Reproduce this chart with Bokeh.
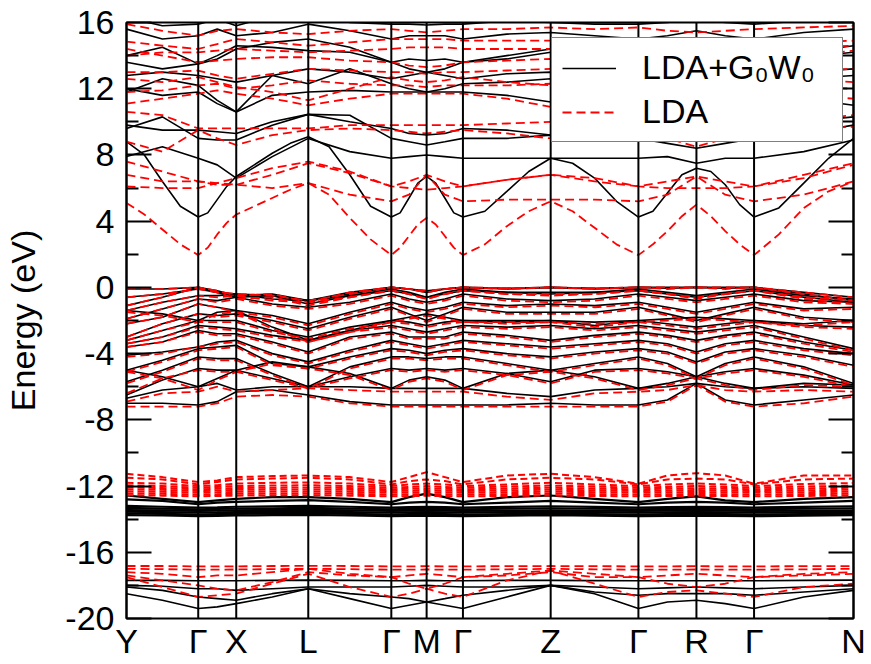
from bokeh.plotting import figure
from bokeh.models import Range1d, FixedTicker, LinearAxis, Span, Legend, LegendItem
from bokeh.embed import file_html
from bokeh.resources import INLINE

# ---------------- data ----------------
K_POINTS = [0.0, 71.7, 109.7, 181.7, 264.7, 300.0, 336.3, 424.0, 511.7, 569.7, 627.3, 726.7]
K_LABELS = ["Y", "Γ", "X", "L", "Γ", "M", "Γ", "Z", "Γ", "R", "Γ", "N"]
K_SAMPLES = [0.0, 35.9, 71.7, 90.7, 109.7, 145.7, 181.7, 223.2, 264.7, 282.4, 300.0, 318.2,
             336.3, 380.2, 424.0, 467.9, 511.7, 540.7, 569.7, 598.5, 627.3, 677.0, 726.7]
K_FINE = [0.0, 17.9, 35.9, 53.8, 71.7, 81.2, 90.7, 100.2, 109.7, 127.7, 145.7, 163.7, 181.7,
          202.5, 223.2, 244.0, 264.7, 273.5, 282.4, 291.2, 300.0, 309.1, 318.2, 327.2, 336.3,
          358.2, 380.2, 402.1, 424.0, 445.9, 467.9, 489.8, 511.7, 526.2, 540.7, 555.2, 569.7,
          584.1, 598.5, 612.9, 627.3, 652.1, 677.0, 701.8, 726.7]
Y_TICKS = [-20, -16, -12, -8, -4, 0, 4, 8, 12, 16]
Y_MINOR = [-18, -14, -10, -6, -2, 2, 6, 10, 14]
Y_TICK_LABELS = ["-20", "-16", "-12", "-8", "-4", "0", "4", "8", "12", "16"]

# lowest conduction bands, read on the finer k grid
G0W0_CB_LOWEST = [8.8, 8.0, 6.4, 4.9, 4.25, 4.5, 5.3, 6.1, 6.7, 7.4, 8.1, 8.7, 9.1,
                  8.5, 6.8, 4.9, 4.25, 4.5, 5.4, 6.3, 6.7, 6.3, 5.4, 4.5, 4.25,
                  4.6, 5.8, 7.0, 7.8, 7.5, 6.6, 5.2, 4.25, 4.6, 5.7, 6.8, 7.2,
                  7.0, 6.2, 5.0, 4.25, 4.8, 6.3, 7.8, 9.0]
LDA_CB_LOWEST = [5.1, 4.4, 3.5, 2.6, 1.95, 2.4, 3.2, 3.9, 4.4, 4.9, 5.4, 5.9, 6.3,
                 5.6, 4.2, 2.9, 1.95, 2.4, 3.1, 3.8, 4.2, 3.8, 3.1, 2.4, 1.95,
                 2.6, 3.7, 4.6, 5.2, 4.6, 3.6, 2.6, 1.95, 2.6, 3.4, 4.3, 5.0,
                 4.3, 3.4, 2.6, 1.95, 3.2, 4.8, 5.8, 6.4]

G0W0_CONDUCTION = [
    [7.9, 8.5, 7.8, 7.4, 6.6, 7.9, 9.0, 8.2, 7.8, 7.9, 8.0, 7.9, 7.8, 7.8, 7.8, 7.8, 7.8, 7.9, 7.5, 7.8, 7.8, 8.2, 8.9],
    [9.6, 10.3, 9.0, 8.9, 8.9, 9.8, 10.45, 10.4, 9.0, 8.8, 8.6, 8.8, 9.0, 9.0, 9.2, 9.1, 9.0, 8.7, 8.4, 8.7, 9.0, 9.3, 9.8],
    [9.8, 9.5, 9.5, 9.4, 9.3, 10.0, 10.45, 10.0, 9.6, 9.3, 9.2, 9.3, 9.6, 9.5, 9.2, 9.5, 9.8, 9.5, 9.3, 9.5, 9.8, 10.0, 10.3],
    [11.8, 12.6, 12.2, 11.3, 10.6, 12.8, 12.3, 13.2, 12.3, 12.0, 11.8, 12.0, 12.3, 12.4, 12.6, 12.2, 12.3, 12.4, 12.2, 12.4, 12.3, 12.6, 12.8],
    [12.0, 11.6, 11.8, 11.1, 10.6, 11.6, 11.8, 11.9, 11.8, 11.8, 11.8, 11.8, 11.8, 11.6, 11.2, 11.6, 11.8, 11.6, 11.4, 11.6, 11.8, 11.4, 11.0],
    [13.6, 13.2, 13.5, 14.0, 14.6, 14.5, 14.3, 14.2, 13.6, 13.2, 13.0, 13.2, 13.6, 13.8, 14.2, 13.9, 13.6, 13.4, 13.2, 13.4, 13.6, 13.9, 14.2],
    [14.0, 14.5, 13.5, 13.8, 14.4, 14.8, 15.0, 14.5, 13.6, 13.8, 13.7, 13.8, 13.6, 14.0, 14.4, 14.0, 13.8, 14.0, 14.3, 14.0, 13.8, 14.2, 14.6],
    [15.6, 15.0, 15.2, 15.6, 15.2, 15.4, 15.9, 15.5, 15.0, 15.2, 15.2, 15.2, 15.0, 15.3, 15.4, 15.2, 15.0, 15.2, 15.5, 15.2, 15.0, 15.4, 15.6],
    [16.3, 15.8, 15.9, 16.2, 15.8, 16.4, 16.6, 16.0, 15.9, 15.9, 15.85, 15.9, 15.9, 16.1, 16.0, 15.9, 15.9, 16.0, 16.2, 16.0, 15.9, 16.1, 16.3],
    [12.8, 13.0, 12.8, 12.6, 12.4, 12.8, 13.2, 13.0, 12.6, 12.8, 13.0, 12.8, 12.6, 12.9, 13.0, 12.8, 12.7, 12.9, 13.0, 12.8, 12.7, 13.0, 13.2],
]
LDA_CONDUCTION = [
    [6.1, 6.0, 6.0, 6.3, 6.6, 7.2, 7.6, 7.0, 6.1, 6.0, 5.9, 6.0, 6.1, 6.5, 6.8, 6.6, 6.1, 6.0, 6.0, 6.0, 6.1, 6.8, 7.5],
    [6.8, 6.4, 6.4, 6.3, 6.2, 6.0, 6.3, 5.6, 5.2, 5.6, 6.8, 5.6, 5.2, 5.3, 5.3, 5.3, 5.2, 5.6, 6.7, 5.6, 5.2, 5.6, 6.4],
    [8.8, 8.2, 9.5, 9.0, 8.6, 9.2, 9.5, 9.6, 9.5, 9.4, 9.3, 9.4, 9.5, 9.3, 9.0, 9.2, 9.5, 9.0, 8.5, 9.0, 9.5, 9.6, 9.7],
    [10.6, 10.4, 9.6, 9.6, 9.6, 9.6, 9.6, 9.8, 9.8, 9.8, 9.8, 9.8, 9.8, 9.9, 10.0, 9.9, 9.8, 9.7, 9.6, 9.7, 9.8, 10.1, 10.4],
    [11.1, 11.4, 11.7, 11.9, 11.7, 11.4, 11.0, 11.4, 11.7, 11.7, 11.7, 11.7, 11.7, 11.4, 10.9, 11.3, 11.7, 11.4, 11.1, 11.4, 11.7, 11.6, 11.4],
    [12.6, 12.4, 12.7, 12.4, 12.1, 11.8, 11.3, 12.0, 12.7, 12.5, 12.4, 12.5, 12.7, 12.4, 12.2, 12.4, 12.7, 12.4, 12.2, 12.4, 12.7, 12.6, 12.4],
    [14.4, 14.0, 13.6, 13.7, 13.8, 13.9, 13.9, 13.7, 13.6, 13.4, 13.3, 13.4, 13.6, 13.7, 13.8, 13.7, 13.6, 13.9, 14.2, 13.9, 13.6, 14.0, 14.3],
    [14.85, 14.6, 14.4, 14.7, 15.0, 14.8, 14.6, 14.8, 15.0, 15.0, 15.0, 15.0, 14.9, 14.9, 14.9, 14.9, 14.9, 14.8, 14.6, 14.8, 14.9, 14.8, 14.9],
    [15.9, 15.5, 15.2, 15.5, 15.6, 15.4, 15.3, 15.5, 15.6, 15.5, 15.4, 15.5, 15.6, 15.6, 15.7, 15.6, 15.7, 15.5, 15.4, 15.5, 15.6, 15.7, 15.8],
    [13.0, 13.0, 13.1, 12.8, 12.6, 12.9, 13.2, 13.1, 13.0, 13.0, 12.9, 13.0, 13.0, 13.1, 13.2, 13.1, 13.0, 13.1, 13.2, 13.1, 13.0, 13.1, 13.2],
    [7.6, 7.0, 6.4, 6.2, 6.2, 6.8, 7.5, 6.9, 6.1, 6.4, 6.8, 6.4, 6.1, 6.5, 6.8, 6.4, 6.1, 6.4, 6.7, 6.4, 6.1, 6.6, 7.4],
    [11.8, 11.9, 12.2, 12.3, 12.0, 12.2, 12.5, 12.3, 12.2, 12.2, 12.1, 12.2, 12.2, 12.2, 12.3, 12.2, 12.2, 12.1, 12.0, 12.1, 12.2, 12.1, 12.0],
    [14.0, 14.2, 14.2, 14.3, 14.4, 14.3, 14.2, 14.3, 14.4, 14.5, 14.5, 14.5, 14.4, 14.4, 14.4, 14.4, 14.4, 14.5, 14.6, 14.5, 14.4, 14.5, 14.6],
]
G0W0_VALENCE = [
    [-7.0, -7.0, -7.1, -6.9, -6.3, -6.2, -6.5, -6.9, -7.1, -7.1, -7.1, -7.1, -7.1, -7.1, -7.0, -7.1, -7.1, -6.8, -5.8, -6.8, -7.1, -6.8, -6.5],
    [-6.7, -6.2, -6.0, -5.8, -6.2, -6.0, -6.0, -6.0, -6.1, -6.1, -6.1, -6.1, -6.1, -6.4, -6.6, -6.2, -6.1, -6.0, -5.8, -6.0, -6.1, -6.0, -6.1],
    [-6.5, -5.6, -4.9, -5.0, -5.0, -5.5, -6.0, -5.4, -4.9, -5.0, -4.9, -5.0, -4.9, -5.2, -5.7, -5.0, -4.9, -5.1, -5.4, -5.1, -4.9, -5.3, -5.9],
    [-5.7, -5.0, -4.2, -4.3, -4.3, -5.2, -6.0, -4.8, -4.2, -4.2, -4.3, -4.2, -4.2, -4.6, -5.0, -4.6, -4.2, -4.6, -5.4, -4.6, -4.2, -4.8, -5.8],
    [-5.0, -4.4, -3.7, -3.6, -3.5, -4.6, -4.8, -4.2, -3.7, -3.8, -4.0, -3.8, -3.7, -4.0, -4.2, -3.9, -3.7, -3.9, -4.5, -3.9, -3.7, -4.1, -4.7],
    [-4.1, -3.9, -3.6, -3.3, -3.2, -4.0, -4.5, -3.8, -3.2, -3.4, -3.6, -3.4, -3.2, -3.4, -3.6, -3.4, -3.2, -3.4, -3.9, -3.4, -3.2, -3.7, -4.0],
    [-3.6, -3.3, -2.6, -2.8, -2.8, -3.3, -3.9, -3.0, -2.7, -3.0, -3.0, -3.0, -2.7, -2.9, -3.2, -2.9, -2.7, -2.9, -3.2, -2.9, -2.7, -3.3, -3.8],
    [-3.4, -3.0, -2.3, -2.4, -2.5, -2.9, -3.2, -2.6, -2.3, -2.5, -2.7, -2.5, -2.3, -2.4, -2.3, -2.5, -2.3, -2.5, -2.7, -2.5, -2.3, -3.0, -3.7],
    [-3.2, -2.6, -2.0, -2.0, -2.0, -2.6, -3.0, -2.4, -2.0, -2.1, -2.3, -2.1, -2.0, -2.1, -2.0, -2.1, -2.0, -2.2, -2.4, -2.2, -2.0, -2.3, -2.4],
    [-3.0, -2.2, -1.6, -1.7, -1.6, -2.0, -2.5, -1.8, -1.2, -1.6, -2.0, -1.6, -1.2, -1.5, -1.5, -1.5, -1.2, -1.6, -2.0, -1.6, -1.2, -1.8, -2.0],
    [-2.2, -1.8, -1.0, -1.2, -1.4, -1.7, -2.2, -1.5, -0.9, -1.2, -1.4, -1.2, -0.9, -1.1, -1.0, -1.1, -0.9, -1.2, -1.5, -1.2, -0.9, -1.3, -1.2],
    [-1.9, -1.3, -0.7, -0.8, -0.6, -1.0, -1.2, -0.9, -0.4, -0.7, -0.9, -0.7, -0.4, -0.7, -0.8, -0.7, -0.4, -0.6, -0.8, -0.6, -0.4, -0.8, -0.9],
    [-1.4, -0.9, -0.5, -0.5, -0.4, -0.7, -0.8, -0.5, -0.1, -0.3, -0.6, -0.3, -0.1, -0.3, -0.3, -0.3, -0.1, -0.3, -0.5, -0.3, -0.1, -0.5, -0.7],
    [-1.1, -0.6, 0.0, -0.2, -0.5, -0.4, -0.8, -0.3, 0.0, -0.1, -0.3, -0.1, 0.0, -0.1, 0.0, -0.1, 0.0, -0.05, 0.0, -0.05, 0.0, -0.3, -0.6],
    [-0.6, -0.4, -0.1, -0.3, -0.6, -0.5, -1.0, -0.5, -0.2, -0.4, -0.6, -0.4, -0.2, -0.3, -0.4, -0.3, -0.2, -0.4, -0.6, -0.4, -0.2, -0.6, -0.9],
    [-0.1, -0.1, 0.0, -0.3, -0.4, -0.5, -0.8, -0.4, 0.0, -0.1, -0.2, -0.1, 0.0, -0.05, 0.0, -0.05, 0.0, 0.0, 0.0, 0.0, 0.0, -0.4, -0.8],
    [-1.4, -1.6, -2.0, -1.5, -1.4, -2.4, -3.2, -2.6, -2.0, -1.8, -1.6, -1.8, -2.0, -2.0, -2.0, -2.3, -2.0, -1.9, -1.8, -1.9, -2.0, -2.2, -2.0],
    [-5.0, -5.4, -6.0, -5.5, -5.0, -4.5, -4.8, -5.2, -6.1, -5.6, -5.4, -5.6, -6.1, -5.2, -5.0, -5.4, -6.1, -5.8, -5.4, -5.8, -6.1, -5.8, -5.9],
]
LDA_VALENCE = [
    [-7.2, -7.2, -7.2, -7.0, -6.6, -6.5, -6.6, -7.0, -7.2, -7.2, -7.2, -7.2, -7.2, -7.2, -7.2, -7.2, -7.2, -6.9, -5.9, -6.9, -7.2, -7.0, -6.6],
    [-6.9, -6.4, -6.3, -6.0, -6.3, -6.2, -6.1, -6.2, -6.3, -6.3, -6.3, -6.3, -6.3, -6.6, -6.8, -6.4, -6.3, -6.2, -5.9, -6.2, -6.3, -6.2, -6.3],
    [-6.4, -5.5, -5.0, -5.1, -5.1, -5.6, -6.1, -5.5, -5.0, -5.1, -5.0, -5.1, -5.0, -5.3, -5.8, -5.1, -5.0, -5.2, -5.5, -5.2, -5.0, -5.4, -6.0],
    [-5.8, -5.1, -4.3, -4.4, -4.4, -5.3, -6.1, -4.9, -4.3, -4.3, -4.4, -4.3, -4.3, -4.7, -5.1, -4.7, -4.3, -4.7, -5.5, -4.7, -4.3, -4.9, -5.9],
    [-5.1, -4.5, -3.8, -3.7, -3.6, -4.7, -4.9, -4.3, -3.8, -3.9, -4.1, -3.9, -3.8, -4.1, -4.3, -4.0, -3.8, -4.0, -4.6, -4.0, -3.8, -4.2, -4.8],
    [-4.2, -4.0, -3.6, -3.4, -3.3, -4.1, -4.6, -3.9, -3.3, -3.5, -3.7, -3.5, -3.3, -3.5, -3.7, -3.5, -3.3, -3.5, -4.0, -3.5, -3.3, -3.8, -4.1],
    [-3.6, -3.3, -2.7, -2.9, -2.9, -3.4, -4.0, -3.1, -2.8, -3.1, -3.1, -3.1, -2.8, -3.0, -3.3, -3.0, -2.8, -3.0, -3.3, -3.0, -2.8, -3.4, -3.9],
    [-3.4, -3.0, -2.4, -2.5, -2.6, -3.0, -3.3, -2.7, -2.4, -2.6, -2.8, -2.6, -2.4, -2.5, -2.4, -2.6, -2.4, -2.6, -2.8, -2.6, -2.4, -3.1, -3.8],
    [-3.2, -2.6, -2.1, -2.1, -2.1, -2.7, -3.1, -2.5, -2.1, -2.2, -2.4, -2.2, -2.1, -2.2, -2.1, -2.2, -2.1, -2.3, -2.5, -2.3, -2.1, -2.4, -2.5],
    [-3.0, -2.2, -1.6, -1.8, -1.7, -2.1, -2.6, -1.9, -1.3, -1.7, -2.1, -1.7, -1.3, -1.6, -1.6, -1.6, -1.3, -1.7, -2.1, -1.7, -1.3, -1.9, -2.1],
    [-2.2, -1.8, -1.0, -1.2, -1.5, -1.8, -2.3, -1.6, -1.0, -1.3, -1.5, -1.3, -1.0, -1.2, -1.1, -1.2, -1.0, -1.3, -1.6, -1.3, -1.0, -1.4, -1.3],
    [-1.9, -1.3, -0.7, -0.9, -0.7, -1.1, -1.3, -1.0, -0.5, -0.8, -1.0, -0.8, -0.5, -0.8, -0.9, -0.8, -0.5, -0.7, -0.9, -0.7, -0.5, -0.9, -1.0],
    [-1.4, -0.9, -0.5, -0.6, -0.5, -0.8, -0.9, -0.6, -0.2, -0.4, -0.7, -0.4, -0.2, -0.4, -0.4, -0.4, -0.2, -0.4, -0.6, -0.4, -0.2, -0.6, -0.8],
    [-1.1, -0.6, 0.0, -0.2, -0.5, -0.4, -0.9, -0.3, 0.0, -0.1, -0.3, -0.1, 0.0, -0.1, 0.0, -0.1, 0.0, -0.1, 0.0, -0.1, 0.0, -0.3, -0.6],
    [-0.6, -0.4, -0.1, -0.3, -0.7, -0.6, -1.1, -0.6, -0.2, -0.4, -0.7, -0.4, -0.2, -0.4, -0.5, -0.4, -0.2, -0.4, -0.7, -0.4, -0.2, -0.7, -1.0],
    [-0.1, -0.1, 0.0, -0.3, -0.4, -0.5, -0.8, -0.4, 0.0, -0.1, -0.2, -0.1, 0.0, -0.05, 0.0, -0.05, 0.0, 0.0, 0.0, 0.0, 0.0, -0.4, -0.8],
    [-1.5, -1.7, -2.1, -1.6, -1.5, -2.5, -3.3, -2.7, -2.1, -1.9, -1.7, -1.9, -2.1, -2.1, -2.1, -2.4, -2.1, -2.0, -1.9, -2.0, -2.1, -2.3, -2.1],
    [-5.1, -5.5, -6.2, -5.6, -5.1, -4.6, -4.9, -5.3, -6.2, -5.7, -5.5, -5.7, -6.2, -5.3, -5.1, -5.5, -6.2, -5.9, -5.5, -5.9, -6.2, -5.9, -6.0],
]
G0W0_SEMICORE = [
    [-12.57, -12.77, -12.97, -12.87, -12.77, -12.67, -12.67, -12.77, -12.97, -12.67, -12.46, -12.67, -12.97, -12.67, -12.57, -12.77, -12.97, -12.77, -12.62, -12.87, -12.97, -12.77, -12.67],
    [-12.8, -12.9, -13.1, -13.0, -12.95, -12.9, -12.85, -12.95, -13.1, -13.0, -12.95, -13.0, -13.1, -13.0, -12.9, -13.0, -13.1, -13.0, -12.95, -13.0, -13.1, -13.0, -12.9],
    [-13.2, -13.25, -13.3, -13.28, -13.25, -13.22, -13.2, -13.25, -13.3, -13.27, -13.25, -13.27, -13.3, -13.26, -13.22, -13.26, -13.3, -13.27, -13.25, -13.27, -13.3, -13.26, -13.22],
    [-13.32, -13.36, -13.4, -13.38, -13.36, -13.34, -13.32, -13.36, -13.4, -13.38, -13.36, -13.38, -13.4, -13.37, -13.34, -13.37, -13.4, -13.38, -13.36, -13.38, -13.4, -13.37, -13.34],
    [-13.45, -13.47, -13.5, -13.48, -13.46, -13.45, -13.44, -13.46, -13.5, -13.48, -13.47, -13.48, -13.5, -13.48, -13.46, -13.48, -13.5, -13.48, -13.47, -13.48, -13.5, -13.48, -13.46],
    [-13.55, -13.57, -13.6, -13.59, -13.57, -13.56, -13.55, -13.57, -13.6, -13.59, -13.58, -13.59, -13.6, -13.58, -13.56, -13.58, -13.6, -13.59, -13.58, -13.59, -13.6, -13.58, -13.56],
    [-13.65, -13.68, -13.72, -13.7, -13.68, -13.66, -13.65, -13.68, -13.72, -13.7, -13.69, -13.7, -13.72, -13.69, -13.66, -13.69, -13.72, -13.7, -13.69, -13.7, -13.72, -13.69, -13.66],
    [-13.75, -13.78, -13.82, -13.8, -13.78, -13.76, -13.74, -13.78, -13.82, -13.8, -13.79, -13.8, -13.82, -13.79, -13.76, -13.79, -13.82, -13.8, -13.79, -13.8, -13.82, -13.79, -13.76],
]
LDA_SEMICORE = [
    [-11.26, -11.46, -11.76, -11.66, -11.46, -11.4, -11.36, -11.46, -11.76, -11.46, -11.16, -11.46, -11.76, -11.36, -11.26, -11.46, -11.86, -11.36, -11.22, -11.36, -11.86, -11.36, -11.36],
    [-11.5, -11.6, -11.9, -11.75, -11.6, -11.55, -11.5, -11.6, -11.9, -11.7, -11.6, -11.7, -11.9, -11.6, -11.5, -11.6, -11.9, -11.6, -11.55, -11.6, -11.9, -11.6, -11.55],
    [-11.8, -11.85, -12.0, -11.95, -11.85, -11.8, -11.78, -11.85, -12.0, -11.9, -11.85, -11.9, -12.0, -11.9, -11.8, -11.9, -12.0, -11.9, -11.85, -11.9, -12.0, -11.88, -11.82],
    [-11.95, -12.0, -12.1, -12.05, -12.0, -11.97, -11.95, -12.0, -12.1, -12.05, -12.0, -12.05, -12.1, -12.03, -11.97, -12.03, -12.1, -12.05, -12.0, -12.05, -12.1, -12.03, -11.98],
    [-12.08, -12.12, -12.2, -12.16, -12.12, -12.1, -12.08, -12.12, -12.2, -12.16, -12.13, -12.16, -12.2, -12.15, -12.1, -12.15, -12.2, -12.16, -12.13, -12.16, -12.2, -12.15, -12.1],
    [-12.2, -12.23, -12.3, -12.27, -12.23, -12.21, -12.2, -12.23, -12.3, -12.27, -12.24, -12.27, -12.3, -12.26, -12.22, -12.26, -12.3, -12.27, -12.24, -12.27, -12.3, -12.26, -12.22],
    [-12.32, -12.35, -12.4, -12.38, -12.35, -12.33, -12.32, -12.35, -12.4, -12.38, -12.36, -12.38, -12.4, -12.37, -12.34, -12.37, -12.4, -12.38, -12.36, -12.38, -12.4, -12.37, -12.34],
    [-12.44, -12.47, -12.52, -12.5, -12.47, -12.45, -12.44, -12.47, -12.52, -12.5, -12.48, -12.5, -12.52, -12.49, -12.46, -12.49, -12.52, -12.5, -12.48, -12.5, -12.52, -12.49, -12.46],
    [-12.55, -12.58, -12.62, -12.6, -12.58, -12.56, -12.55, -12.58, -12.62, -12.6, -12.59, -12.6, -12.62, -12.6, -12.57, -12.6, -12.62, -12.6, -12.59, -12.6, -12.62, -12.6, -12.57],
]
G0W0_DEEP = [
    [-17.7, -17.7, -17.72, -17.72, -17.72, -17.7, -17.68, -17.7, -17.72, -17.72, -17.7, -17.72, -17.72, -17.7, -17.7, -17.71, -17.72, -17.72, -17.72, -17.72, -17.72, -17.7, -17.68],
    [-18.0, -18.05, -18.2, -18.2, -18.3, -18.2, -18.1, -18.1, -18.1, -18.05, -18.0, -18.05, -18.1, -18.1, -18.0, -18.1, -18.2, -18.15, -18.1, -18.15, -18.2, -18.1, -18.0],
    [-18.1, -18.3, -18.7, -18.8, -18.9, -18.5, -18.2, -18.5, -18.7, -18.8, -19.0, -18.8, -18.6, -18.3, -18.0, -18.4, -18.6, -18.5, -18.5, -18.5, -18.6, -18.4, -18.2],
    [-18.5, -18.9, -19.4, -19.3, -19.1, -18.7, -18.2, -18.8, -19.4, -19.2, -19.0, -19.2, -19.4, -18.7, -18.0, -18.5, -19.4, -19.0, -18.9, -19.1, -19.4, -18.7, -18.3],
]
LDA_DEEP = [
    [-16.83, -16.83, -16.85, -16.85, -16.85, -16.83, -16.82, -16.83, -16.85, -16.85, -16.84, -16.85, -16.85, -16.84, -16.83, -16.84, -16.85, -16.85, -16.84, -16.85, -16.85, -16.84, -16.83],
    [-17.0, -17.02, -17.05, -17.05, -17.04, -17.02, -17.0, -17.02, -17.05, -17.05, -17.04, -17.05, -17.05, -17.03, -17.0, -17.03, -17.05, -17.05, -17.04, -17.05, -17.05, -17.03, -17.0],
    [-17.2, -17.3, -17.5, -17.4, -17.4, -17.2, -17.0, -17.3, -17.5, -17.4, -17.3, -17.4, -17.5, -17.3, -17.1, -17.3, -17.5, -17.4, -17.3, -17.4, -17.5, -17.3, -17.2],
    [-17.5, -18.1, -18.7, -18.6, -18.5, -17.9, -17.3, -18.1, -18.7, -18.5, -18.2, -18.5, -18.7, -17.7, -17.1, -17.9, -18.7, -18.4, -18.3, -18.5, -18.7, -18.1, -17.9],
    [-17.4, -17.7, -18.0, -18.2, -18.3, -17.8, -17.2, -17.4, -17.5, -17.9, -18.2, -17.9, -17.5, -17.4, -17.2, -17.5, -17.5, -17.9, -18.1, -17.9, -17.5, -17.4, -17.3],
]

# ---------------- figure ----------------
FONT = "Liberation Sans"

p = figure(width=871, height=664, output_backend="svg", toolbar_location=None,
           x_range=Range1d(K_POINTS[0], K_POINTS[-1]), y_range=Range1d(-20, 16),
           x_axis_location=None, y_axis_location=None,
           min_border_left=126, min_border_right=18, min_border_top=22, min_border_bottom=46)
p.xgrid.visible = False
p.ygrid.visible = False
p.outline_line_color = "black"
p.outline_line_width = 2
p.background_fill_color = "white"
p.border_fill_color = "white"

y_overrides = {t: s for t, s in zip(Y_TICKS, Y_TICK_LABELS)}
left = LinearAxis(ticker=FixedTicker(ticks=Y_TICKS, minor_ticks=Y_MINOR),
                  major_label_overrides=y_overrides,
                  axis_label="Energy (eV)")
right = LinearAxis(ticker=FixedTicker(ticks=Y_TICKS, minor_ticks=Y_MINOR),
                   major_label_overrides={t: "" for t in Y_TICKS})
for ax in (left, right):
    ax.axis_line_width = 2
    ax.axis_line_color = "black"
    ax.major_tick_in = 25
    ax.major_tick_out = 0
    ax.minor_tick_in = 12
    ax.minor_tick_out = 0
    ax.major_tick_line_width = 2
    ax.minor_tick_line_width = 2
    ax.major_label_text_font = FONT
    ax.major_label_text_color = "black"
left.major_label_text_font_size = "34px"
left.major_label_standoff = 12
left.axis_label_text_font = FONT
left.axis_label_text_font_size = "34px"
left.axis_label_text_font_style = "normal"
left.axis_label_text_color = "black"
left.axis_label_standoff = 20
right.major_label_text_font_size = "1px"
right.major_label_standoff = 0
p.add_layout(left, "left")
p.add_layout(right, "right")

# k-path axis
bottom = LinearAxis(ticker=FixedTicker(ticks=K_POINTS, minor_ticks=[]),
                    major_label_overrides={k: s for k, s in zip(K_POINTS, K_LABELS)})
bottom.axis_line_color = None
bottom.major_tick_line_color = None
bottom.minor_tick_line_color = None
bottom.major_tick_in = 0
bottom.major_tick_out = 0
bottom.major_label_standoff = 3
bottom.major_label_text_font = FONT
bottom.major_label_text_font_size = "34px"
bottom.major_label_text_color = "black"
p.add_layout(bottom, "below")

# high-symmetry vertical lines
for kp in K_POINTS[1:-1]:
    p.add_layout(Span(location=kp, dimension="height", line_color="black", line_width=2))

# band lines
def draw(kgrid, bands, **kw):
    return p.multi_line(xs=[kgrid] * len(bands), ys=bands, **kw)

black_kw = dict(line_color="black", line_width=1.6)
red_kw = dict(line_color="#ff0000", line_width=1.8, line_dash="9 5")

r_black = draw(K_SAMPLES, G0W0_VALENCE, **black_kw)
draw(K_FINE, [G0W0_CB_LOWEST], **black_kw)
draw(K_SAMPLES, G0W0_CONDUCTION, **black_kw)
draw(K_SAMPLES, G0W0_SEMICORE, line_color="black", line_width=2.2)
draw(K_SAMPLES, G0W0_DEEP, **black_kw)
r_red = draw(K_SAMPLES, LDA_VALENCE, **red_kw)
draw(K_FINE, [LDA_CB_LOWEST], **red_kw)
draw(K_SAMPLES, LDA_CONDUCTION, **red_kw)
draw(K_SAMPLES, LDA_SEMICORE, line_color="#ff0000", line_width=2.0, line_dash="7 4")
draw(K_SAMPLES, LDA_DEEP, **red_kw)

legend = Legend(items=[LegendItem(label="LDA+G\u2080W\u2080", renderers=[r_black]),
                       LegendItem(label="LDA", renderers=[r_red])],
                location=(425, 476))
legend.label_text_font = FONT
legend.label_text_font_size = "34px"
legend.label_text_color = "black"
legend.glyph_width = 54
legend.glyph_height = 30
legend.label_standoff = 26
legend.label_width = 190
legend.label_height = 36
legend.padding = 10
legend.spacing = 5
legend.margin = 0
legend.border_line_color = "black"
legend.border_line_width = 1.5
legend.background_fill_color = "white"
legend.background_fill_alpha = 1.0
p.add_layout(legend)

open("out.html", "w").write(file_html(p, INLINE))
